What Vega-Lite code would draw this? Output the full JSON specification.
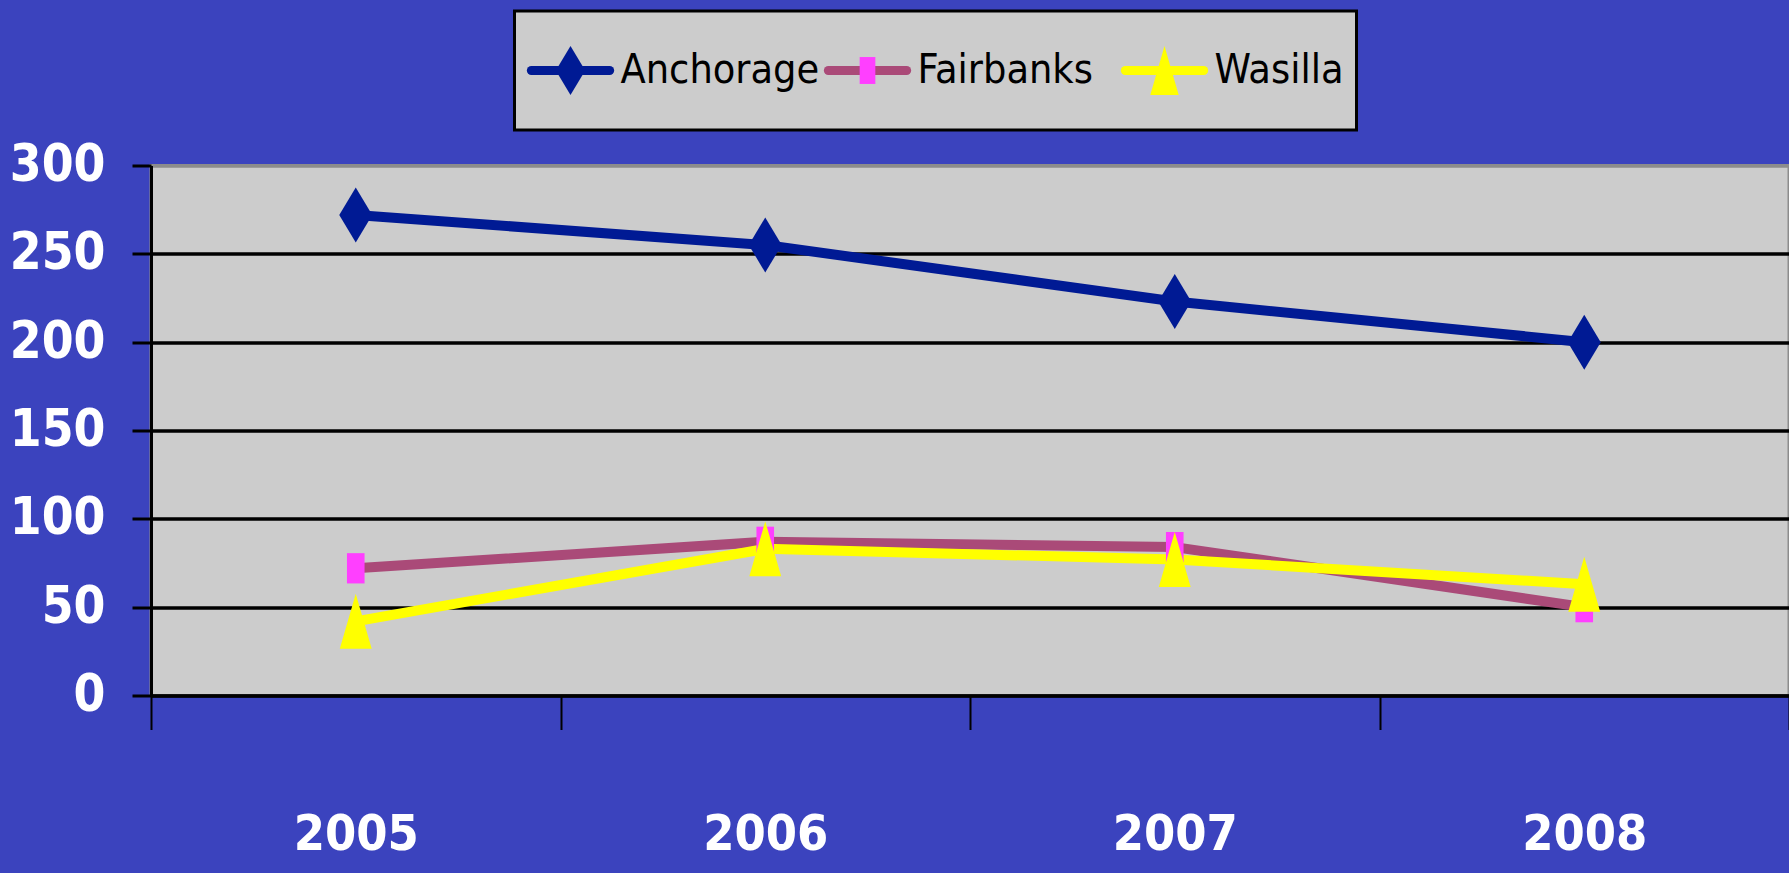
{
  "$schema": "https://vega.github.io/schema/vega-lite/v6.json",
  "autosize": {"type": "pad"},
  "padding": {"left": 7, "top": 9, "right": 2, "bottom": 12},
  "background": "#3B43BE",
  "config": {
    "font": "DejaVu Sans Condensed"
  },
  "datasets": {
    "series": [
      {"year": "2005", "city": "Anchorage", "value": 272},
      {"year": "2006", "city": "Anchorage", "value": 255},
      {"year": "2007", "city": "Anchorage", "value": 223},
      {"year": "2008", "city": "Anchorage", "value": 200},
      {"year": "2005", "city": "Fairbanks", "value": 72},
      {"year": "2006", "city": "Fairbanks", "value": 87},
      {"year": "2007", "city": "Fairbanks", "value": 84},
      {"year": "2008", "city": "Fairbanks", "value": 50},
      {"year": "2005", "city": "Wasilla", "value": 42},
      {"year": "2006", "city": "Wasilla", "value": 83},
      {"year": "2007", "city": "Wasilla", "value": 77},
      {"year": "2008", "city": "Wasilla", "value": 63}
    ],
    "cities": [
      {"city": "Anchorage"},
      {"city": "Fairbanks"},
      {"city": "Wasilla"}
    ]
  },
  "resolve": {"scale": {"fill": "shared", "stroke": "shared", "shape": "shared"}},
  "bounds": "flush",
  "spacing": 154.5,
  "vconcat": [
    {
      "bounds": "flush",
      "spacing": 362.5,
      "hconcat": [
        {
          "width": 1, "height": 119,
          "data": {"name": "cities"},
          "view": {"stroke": null, "fill": null},
          "mark": {"type": "point", "opacity": 0}
        },
        {
          "width": 842, "height": 119,
          "data": {"name": "cities"},
          "view": {"fill": "#CCCCCC", "stroke": "black", "strokeWidth": 3},
          "encoding": {
            "x": {"field": "city", "type": "nominal", "axis": null, "scale": {"type": "point", "padding": 0, "range": [56, 650]}}
          },
          "layer": [
            {
              "mark": {"type": "point", "shape": "M-0.9,0L0.9,0", "size": 7569, "filled": false, "strokeWidth": 9, "strokeCap": "round", "opacity": 1},
              "encoding": {"stroke": {"field": "city", "type": "nominal", "legend": null}}
            },
            {
              "mark": {"type": "point", "filled": true, "size": 2400, "strokeWidth": 0, "opacity": 1},
              "encoding": {
                "fill": {"field": "city", "type": "nominal", "legend": null},
                "shape": {"field": "city", "type": "nominal", "legend": null}
              }
            },
            {
              "mark": {"type": "text", "align": "left", "baseline": "middle", "dx": 50, "font": "DejaVu Sans Condensed", "fontSize": 41, "color": "black"},
              "encoding": {"text": {"field": "city", "type": "nominal"}}
            }
          ]
        }
      ]
    },
    {
      "width": 1638,
      "height": 530,
      "data": {"name": "series"},
      "view": {"fill": "#CCCCCC", "stroke": "#8C8C8C", "strokeWidth": 3},
      "encoding": {
        "x": {
          "field": "year", "type": "ordinal", "bandPosition": 0.5,
          "scale": {"type": "band", "paddingInner": 0, "paddingOuter": 0},
          "axis": {
            "title": null, "labelAngle": 0, "tickBand": "extent",
            "domain": true, "domainColor": "black", "domainWidth": 3,
            "ticks": true, "tickColor": "black", "tickWidth": 2, "tickSize": 34,
            "grid": false,
            "labelFont": "DejaVu Sans Condensed", "labelFontSize": 50, "labelFontWeight": "bold",
            "labelColor": "white", "labelPadding": 80, "labelBaseline": "top"
          }
        },
        "y": {
          "field": "value", "type": "quantitative",
          "scale": {"domain": [0, 300], "nice": false},
          "axis": {
            "title": null, "values": [0, 50, 100, 150, 200, 250, 300],
            "domain": true, "domainColor": "black", "domainWidth": 3,
            "ticks": true, "tickColor": "black", "tickWidth": 3, "tickSize": 19,
            "grid": true, "gridWidth": 3.5,
            "gridColor": {"condition": {"test": "datum.value == 300", "value": "#8C8C8C"}, "value": "black"},
            "labelFont": "DejaVu Sans Condensed", "labelFontSize": 51, "labelFontWeight": "bold",
            "labelColor": "white", "labelPadding": 27
          }
        }
      },
      "layer": [
        {
          "mark": {"type": "line", "strokeWidth": 10, "strokeCap": "round", "strokeJoin": "round"},
          "encoding": {
            "stroke": {
              "field": "city", "type": "nominal", "legend": null,
              "scale": {"domain": ["Anchorage", "Fairbanks", "Wasilla"], "range": ["#001A94", "#AA4A78", "#FFFF00"]}
            }
          }
        },
        {
          "mark": {"type": "point", "filled": true, "opacity": 1, "size": 3025, "strokeWidth": 0},
          "encoding": {
            "fill": {
              "field": "city", "type": "nominal", "legend": null,
              "scale": {"domain": ["Anchorage", "Fairbanks", "Wasilla"], "range": ["#001A94", "#FF3FFF", "#FFFF00"]}
            },
            "shape": {
              "field": "city", "type": "nominal", "legend": null,
              "scale": {"domain": ["Anchorage", "Fairbanks", "Wasilla"], "range": ["M0,-1L0.6,0L0,1L-0.6,0Z", "M-0.32,-0.55L0.32,-0.55L0.32,0.55L-0.32,0.55Z", "M0,-1L0.58,1L-0.58,1Z"]}
            }
          }
        }
      ]
    }
  ]
}
